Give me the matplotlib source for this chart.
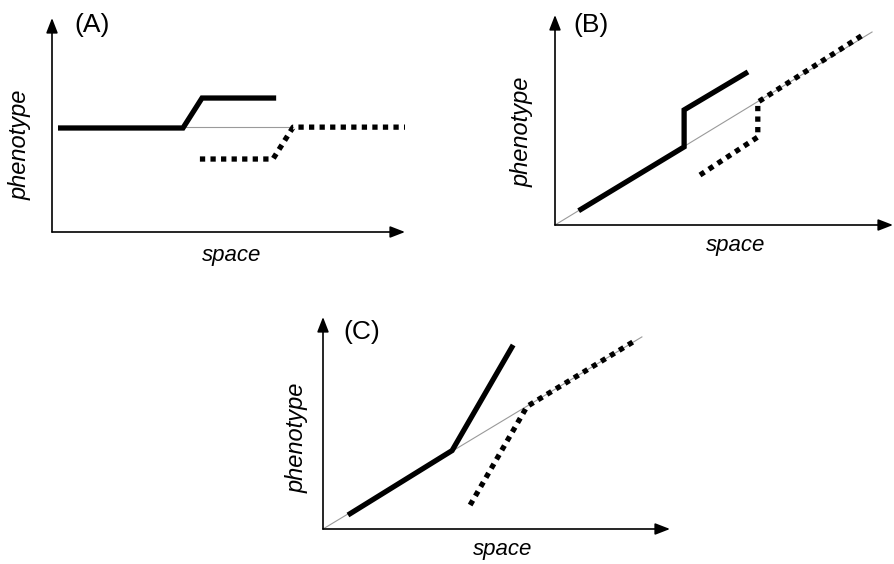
import matplotlib
matplotlib.use("Agg")
import matplotlib.pyplot as plt

plt.rcParams['font.family'] = ['Liberation Sans', 'DejaVu Sans']

W, H = 895, 564

# ---- data (panel units, 0..10 on each axis) ----
# Panel A
a_solid_x = [0.17, 3.71, 4.25, 6.35]
a_solid_y = [4.86, 4.86, 6.26, 6.26]
a_thin_x = [3.71, 6.83]
a_thin_y = [4.90, 4.90]
a_dot_x = [4.19, 6.26, 6.83, 10.0]
a_dot_y = [3.41, 3.41, 4.90, 4.90]

# Panel B
b_solid_x = [0.70, 3.82, 3.82, 5.71]
b_solid_y = [0.68, 3.72, 5.48, 7.29]
b_thin_x = [0.0, 9.38]
b_thin_y = [0.0, 9.19]
b_dot_x = [4.29, 6.00, 6.00, 9.08]
b_dot_y = [2.38, 4.19, 5.85, 9.02]

# Panel C
c_solid_x = [0.72, 3.72, 5.48]
c_solid_y = [0.66, 3.70, 8.68]
c_thin_x = [0.0, 9.19]
c_thin_y = [0.0, 9.06]
c_dot_x = [4.24, 5.88, 8.93]
c_dot_y = [1.13, 5.78, 8.82]

panel_labels = ["(A)", "(B)", "(C)"]
xlabel_text = "space"
ylabel_text = "phenotype"

# ---- layout (pixels: origin x, origin y, x-arrow tip, y-arrow tip) ----
panels = [
    dict(ox=52, oy=232, xt=405, yt=18,
         label=(74, 25), ylab=(20, 145), xlab=(232, 255),
         solid=(a_solid_x, a_solid_y), thin=(a_thin_x, a_thin_y), dot=(a_dot_x, a_dot_y)),
    dict(ox=555, oy=225, xt=893, yt=15,
         label=(573, 25), ylab=(522, 132), xlab=(736, 246),
         solid=(b_solid_x, b_solid_y), thin=(b_thin_x, b_thin_y), dot=(b_dot_x, b_dot_y)),
    dict(ox=323, oy=529, xt=670, yt=317,
         label=(343, 332), ylab=(297, 438), xlab=(503, 550),
         solid=(c_solid_x, c_solid_y), thin=(c_thin_x, c_thin_y), dot=(c_dot_x, c_dot_y)),
]

fig = plt.figure(figsize=(W / 100, H / 100), dpi=100)

def fx(px):
    return px / W

def fy(py):
    return 1 - py / H

for lab, p in zip(panel_labels, panels):
    ax = fig.add_axes([fx(p['ox']), fy(p['oy']),
                       (p['xt'] - p['ox']) / W, (p['oy'] - p['yt']) / H])
    ax.set_xlim(0, 10)
    ax.set_ylim(0, 10)
    ax.axis('off')
    # axes with arrows
    arrow_kw = dict(arrowstyle='-|>,head_length=0.9,head_width=0.35',
                    color='black', lw=1.2, shrinkA=0, shrinkB=0)
    ax.annotate('', xy=(1, 0), xytext=(0, 0), xycoords='axes fraction',
                arrowprops=arrow_kw, annotation_clip=False)
    ax.annotate('', xy=(0, 1), xytext=(0, 0), xycoords='axes fraction',
                arrowprops=arrow_kw, annotation_clip=False)
    tx, ty = p['thin']
    ax.plot(tx, ty, color='#9a9a9a', lw=0.8, clip_on=False, zorder=1)
    sx, sy = p['solid']
    ax.plot(sx, sy, color='black', lw=3.8, solid_capstyle='butt',
            solid_joinstyle='miter', clip_on=False, zorder=2)
    dx, dy = p['dot']
    ax.plot(dx, dy, color='black', lw=3.8, linestyle=(0, (1.0, 1.0)),
            dash_capstyle='butt', clip_on=False, zorder=2)

    fig.text(fx(p['label'][0]), fy(p['label'][1]), lab, fontsize=19,
             ha='left', va='center')
    fig.text(fx(p['ylab'][0]), fy(p['ylab'][1]), ylabel_text, fontsize=17,
             style='italic', rotation=90, ha='center', va='center')
    fig.text(fx(p['xlab'][0]), fy(p['xlab'][1]), xlabel_text, fontsize=16,
             style='italic', ha='center', va='center')

fig.savefig('out.png', dpi=100, facecolor='white')
